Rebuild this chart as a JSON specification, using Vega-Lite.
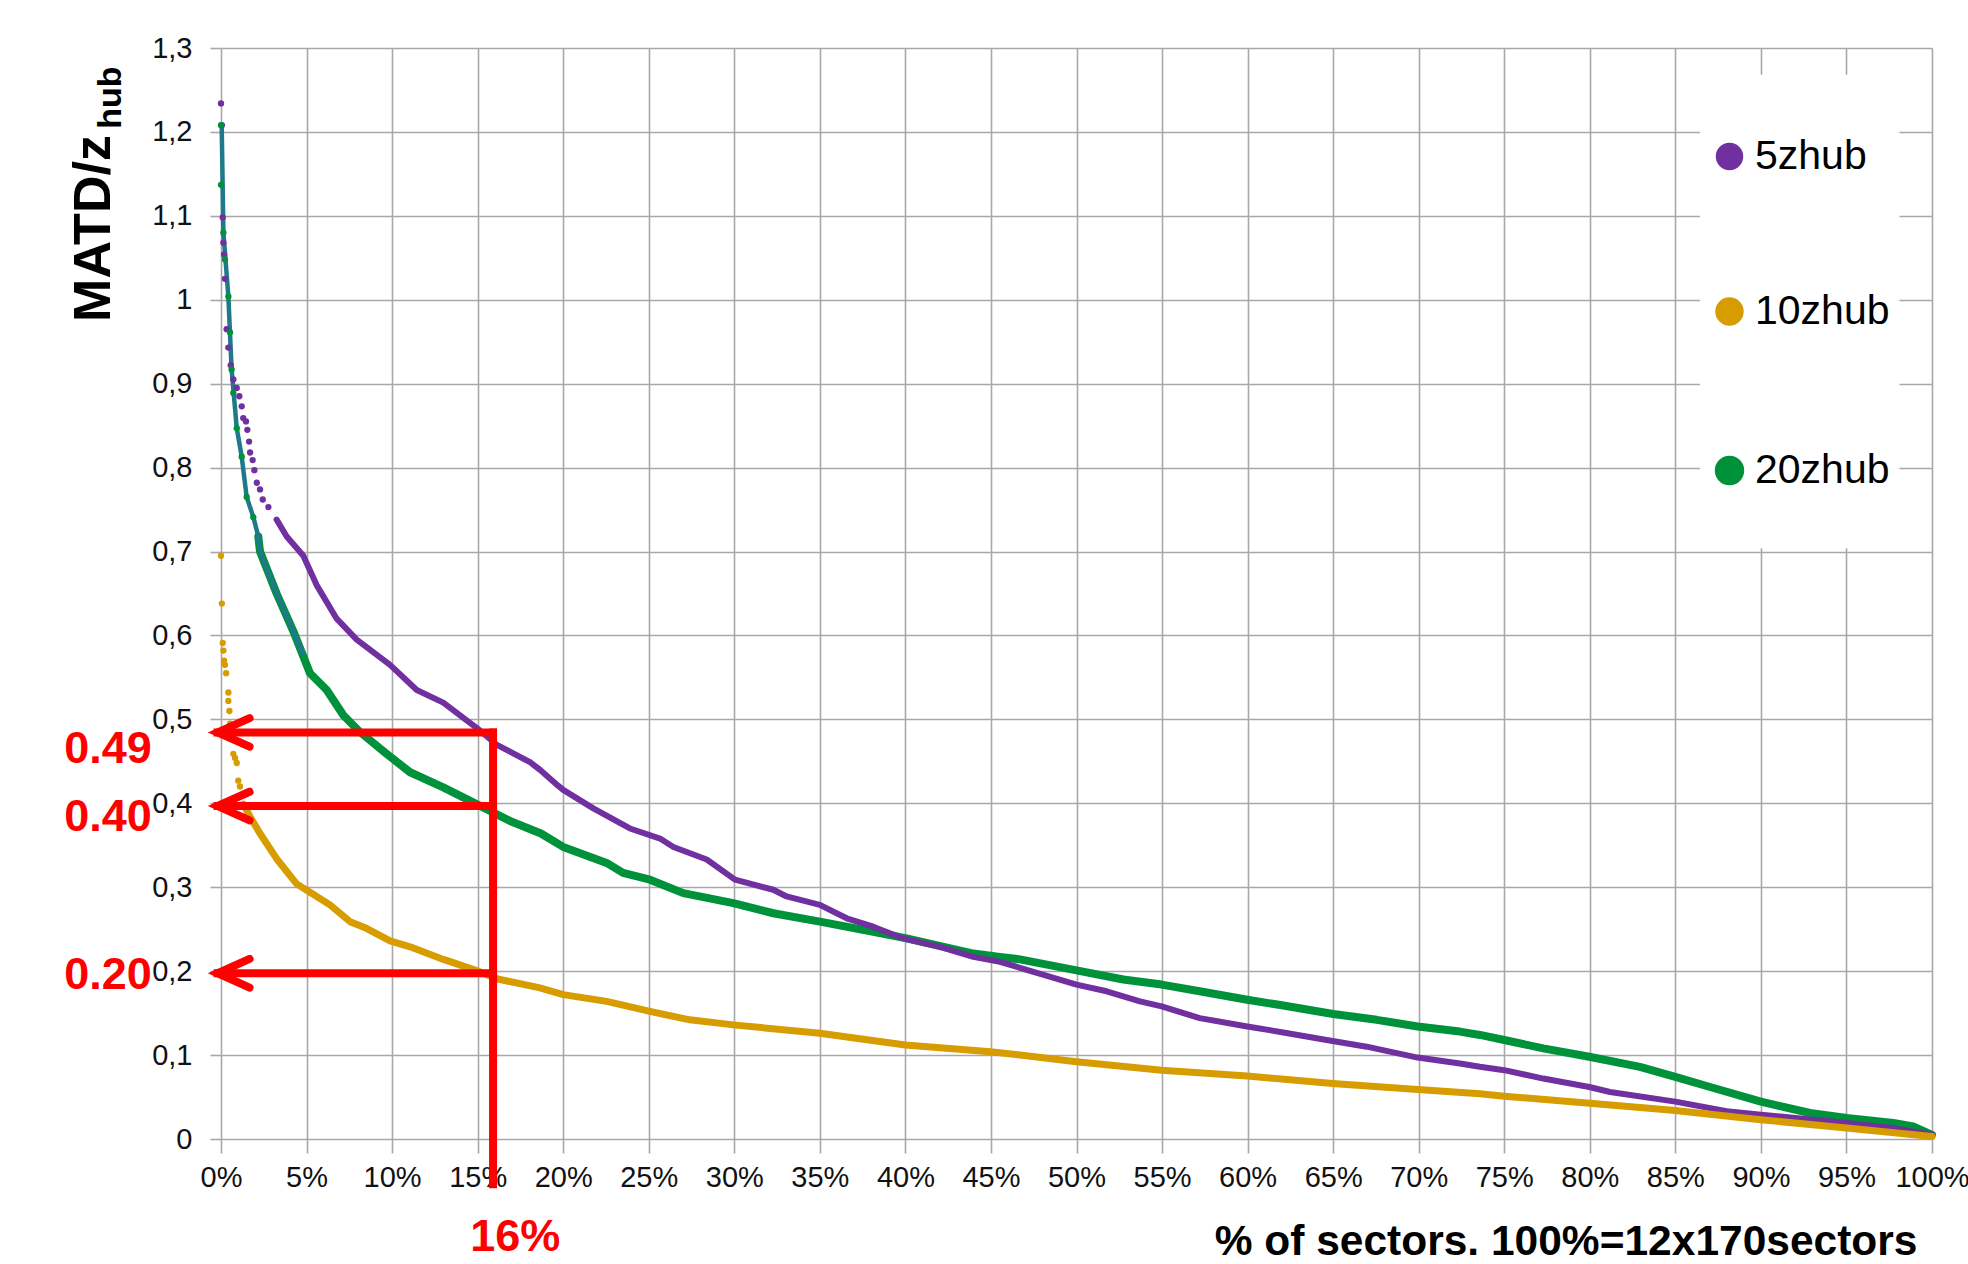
{
  "$schema": "https://vega.github.io/schema/vega-lite/v6.json",
  "width": 1711,
  "height": 1091,
  "autosize": {"type": "none"},
  "padding": {"left": 221, "top": 48, "right": 36, "bottom": 125},
  "background": "#ffffff",
  "config": {"view": {"stroke": null}, "font": "Liberation Sans"},
  "datasets": {
    "lines": [
      {"s": "20zhub", "x": 0.0218, "y": 0.718}, {"s": "20zhub", "x": 0.0228, "y": 0.700}, {"s": "20zhub", "x": 0.0325, "y": 0.650},
      {"s": "20zhub", "x": 0.0423, "y": 0.605}, {"s": "20zhub", "x": 0.052, "y": 0.555}, {"s": "20zhub", "x": 0.0618, "y": 0.535},
      {"s": "20zhub", "x": 0.0715, "y": 0.505}, {"s": "20zhub", "x": 0.0812, "y": 0.485}, {"s": "20zhub", "x": 0.0968, "y": 0.459},
      {"s": "20zhub", "x": 0.1105, "y": 0.437}, {"s": "20zhub", "x": 0.1299, "y": 0.419}, {"s": "20zhub", "x": 0.1494, "y": 0.399},
      {"s": "20zhub", "x": 0.1689, "y": 0.379}, {"s": "20zhub", "x": 0.187, "y": 0.364}, {"s": "20zhub", "x": 0.20, "y": 0.348},
      {"s": "20zhub", "x": 0.2254, "y": 0.329}, {"s": "20zhub", "x": 0.235, "y": 0.317}, {"s": "20zhub", "x": 0.2507, "y": 0.309},
      {"s": "20zhub", "x": 0.2702, "y": 0.293}, {"s": "20zhub", "x": 0.2994, "y": 0.281}, {"s": "20zhub", "x": 0.3228, "y": 0.269},
      {"s": "20zhub", "x": 0.35, "y": 0.259}, {"s": "20zhub", "x": 0.3812, "y": 0.247}, {"s": "20zhub", "x": 0.4007, "y": 0.239},
      {"s": "20zhub", "x": 0.4397, "y": 0.221}, {"s": "20zhub", "x": 0.4553, "y": 0.217}, {"s": "20zhub", "x": 0.467, "y": 0.214},
      {"s": "20zhub", "x": 0.50, "y": 0.201}, {"s": "20zhub", "x": 0.5274, "y": 0.190}, {"s": "20zhub", "x": 0.5498, "y": 0.184},
      {"s": "20zhub", "x": 0.572, "y": 0.176}, {"s": "20zhub", "x": 0.5998, "y": 0.166}, {"s": "20zhub", "x": 0.6209, "y": 0.159},
      {"s": "20zhub", "x": 0.65, "y": 0.149}, {"s": "20zhub", "x": 0.6755, "y": 0.142}, {"s": "20zhub", "x": 0.6994, "y": 0.134},
      {"s": "20zhub", "x": 0.7241, "y": 0.128}, {"s": "20zhub", "x": 0.7358, "y": 0.124}, {"s": "20zhub", "x": 0.75, "y": 0.118},
      {"s": "20zhub", "x": 0.7728, "y": 0.108}, {"s": "20zhub", "x": 0.7997, "y": 0.098}, {"s": "20zhub", "x": 0.8293, "y": 0.086},
      {"s": "20zhub", "x": 0.85, "y": 0.074}, {"s": "20zhub", "x": 0.8703, "y": 0.062}, {"s": "20zhub", "x": 0.90, "y": 0.0445},
      {"s": "20zhub", "x": 0.9287, "y": 0.031}, {"s": "20zhub", "x": 0.9501, "y": 0.025}, {"s": "20zhub", "x": 0.9774, "y": 0.019},
      {"s": "20zhub", "x": 0.989, "y": 0.015}, {"s": "20zhub", "x": 1.0, "y": 0.005},
      {"s": "5zhub", "x": 0.0325, "y": 0.738}, {"s": "5zhub", "x": 0.0384, "y": 0.718}, {"s": "5zhub", "x": 0.0481, "y": 0.695},
      {"s": "5zhub", "x": 0.0559, "y": 0.660}, {"s": "5zhub", "x": 0.0676, "y": 0.620}, {"s": "5zhub", "x": 0.0793, "y": 0.595},
      {"s": "5zhub", "x": 0.0988, "y": 0.565}, {"s": "5zhub", "x": 0.1144, "y": 0.535}, {"s": "5zhub", "x": 0.1299, "y": 0.520},
      {"s": "5zhub", "x": 0.1494, "y": 0.490}, {"s": "5zhub", "x": 0.161, "y": 0.470}, {"s": "5zhub", "x": 0.1806, "y": 0.449},
      {"s": "5zhub", "x": 0.1864, "y": 0.440}, {"s": "5zhub", "x": 0.197, "y": 0.421}, {"s": "5zhub", "x": 0.20, "y": 0.416},
      {"s": "5zhub", "x": 0.2176, "y": 0.394}, {"s": "5zhub", "x": 0.239, "y": 0.370}, {"s": "5zhub", "x": 0.2566, "y": 0.358},
      {"s": "5zhub", "x": 0.2644, "y": 0.348}, {"s": "5zhub", "x": 0.2839, "y": 0.333}, {"s": "5zhub", "x": 0.3004, "y": 0.309},
      {"s": "5zhub", "x": 0.3228, "y": 0.297}, {"s": "5zhub", "x": 0.3306, "y": 0.289}, {"s": "5zhub", "x": 0.35, "y": 0.279},
      {"s": "5zhub", "x": 0.3657, "y": 0.263}, {"s": "5zhub", "x": 0.3812, "y": 0.253}, {"s": "5zhub", "x": 0.3988, "y": 0.239},
      {"s": "5zhub", "x": 0.4202, "y": 0.229}, {"s": "5zhub", "x": 0.4397, "y": 0.217}, {"s": "5zhub", "x": 0.4553, "y": 0.211},
      {"s": "5zhub", "x": 0.467, "y": 0.204}, {"s": "5zhub", "x": 0.50, "y": 0.184}, {"s": "5zhub", "x": 0.5176, "y": 0.176},
      {"s": "5zhub", "x": 0.5371, "y": 0.164}, {"s": "5zhub", "x": 0.5498, "y": 0.158}, {"s": "5zhub", "x": 0.572, "y": 0.144},
      {"s": "5zhub", "x": 0.5998, "y": 0.134}, {"s": "5zhub", "x": 0.6209, "y": 0.127}, {"s": "5zhub", "x": 0.6462, "y": 0.118},
      {"s": "5zhub", "x": 0.6696, "y": 0.110}, {"s": "5zhub", "x": 0.6994, "y": 0.097}, {"s": "5zhub", "x": 0.7241, "y": 0.090},
      {"s": "5zhub", "x": 0.7358, "y": 0.086}, {"s": "5zhub", "x": 0.75, "y": 0.082}, {"s": "5zhub", "x": 0.7728, "y": 0.072},
      {"s": "5zhub", "x": 0.7997, "y": 0.062}, {"s": "5zhub", "x": 0.8118, "y": 0.056}, {"s": "5zhub", "x": 0.85, "y": 0.0445},
      {"s": "5zhub", "x": 0.88, "y": 0.033}, {"s": "5zhub", "x": 0.90, "y": 0.029}, {"s": "5zhub", "x": 0.95, "y": 0.019},
      {"s": "5zhub", "x": 0.9774, "y": 0.013}, {"s": "5zhub", "x": 1.0, "y": 0.005},
      {"s": "10zhub", "x": 0.013, "y": 0.399}, {"s": "10zhub", "x": 0.017, "y": 0.384}, {"s": "10zhub", "x": 0.0228, "y": 0.364},
      {"s": "10zhub", "x": 0.0325, "y": 0.334}, {"s": "10zhub", "x": 0.0442, "y": 0.304}, {"s": "10zhub", "x": 0.052, "y": 0.294},
      {"s": "10zhub", "x": 0.0637, "y": 0.279}, {"s": "10zhub", "x": 0.0754, "y": 0.259}, {"s": "10zhub", "x": 0.085, "y": 0.251},
      {"s": "10zhub", "x": 0.0988, "y": 0.236}, {"s": "10zhub", "x": 0.1105, "y": 0.229}, {"s": "10zhub", "x": 0.13, "y": 0.214},
      {"s": "10zhub", "x": 0.149, "y": 0.201}, {"s": "10zhub", "x": 0.161, "y": 0.191}, {"s": "10zhub", "x": 0.1864, "y": 0.180},
      {"s": "10zhub", "x": 0.20, "y": 0.172}, {"s": "10zhub", "x": 0.2254, "y": 0.164}, {"s": "10zhub", "x": 0.2507, "y": 0.152},
      {"s": "10zhub", "x": 0.274, "y": 0.142}, {"s": "10zhub", "x": 0.2994, "y": 0.136}, {"s": "10zhub", "x": 0.35, "y": 0.126},
      {"s": "10zhub", "x": 0.40, "y": 0.112}, {"s": "10zhub", "x": 0.4497, "y": 0.104}, {"s": "10zhub", "x": 0.467, "y": 0.100},
      {"s": "10zhub", "x": 0.50, "y": 0.092}, {"s": "10zhub", "x": 0.5498, "y": 0.082}, {"s": "10zhub", "x": 0.5998, "y": 0.075},
      {"s": "10zhub", "x": 0.6497, "y": 0.066}, {"s": "10zhub", "x": 0.6994, "y": 0.059}, {"s": "10zhub", "x": 0.7358, "y": 0.054},
      {"s": "10zhub", "x": 0.75, "y": 0.051}, {"s": "10zhub", "x": 0.80, "y": 0.0425}, {"s": "10zhub", "x": 0.85, "y": 0.034},
      {"s": "10zhub", "x": 0.90, "y": 0.023}, {"s": "10zhub", "x": 0.95, "y": 0.013}, {"s": "10zhub", "x": 1.0, "y": 0.003}
    ],
    "dots": [
      {"s": "5zhub", "x": 0.0, "y": 1.234}, {"s": "5zhub", "x": 0.0005, "y": 1.208}, {"s": "5zhub", "x": 0.001, "y": 1.098},
      {"s": "5zhub", "x": 0.0014, "y": 1.068}, {"s": "5zhub", "x": 0.0018, "y": 1.054}, {"s": "5zhub", "x": 0.0023, "y": 1.025},
      {"s": "5zhub", "x": 0.0033, "y": 0.965}, {"s": "5zhub", "x": 0.0043, "y": 0.943}, {"s": "5zhub", "x": 0.0057, "y": 0.922},
      {"s": "5zhub", "x": 0.0072, "y": 0.905}, {"s": "5zhub", "x": 0.0092, "y": 0.895}, {"s": "5zhub", "x": 0.0107, "y": 0.885},
      {"s": "5zhub", "x": 0.0121, "y": 0.873}, {"s": "5zhub", "x": 0.013, "y": 0.859}, {"s": "5zhub", "x": 0.0146, "y": 0.855},
      {"s": "5zhub", "x": 0.0154, "y": 0.845}, {"s": "5zhub", "x": 0.0164, "y": 0.831}, {"s": "5zhub", "x": 0.017, "y": 0.818},
      {"s": "5zhub", "x": 0.0185, "y": 0.809}, {"s": "5zhub", "x": 0.0195, "y": 0.797}, {"s": "5zhub", "x": 0.0209, "y": 0.782},
      {"s": "5zhub", "x": 0.0228, "y": 0.774}, {"s": "5zhub", "x": 0.0244, "y": 0.762}, {"s": "5zhub", "x": 0.0277, "y": 0.753},
      {"s": "20zhub", "x": 0.0, "y": 1.208}, {"s": "20zhub", "x": 0.0, "y": 1.137}, {"s": "20zhub", "x": 0.0014, "y": 1.080},
      {"s": "20zhub", "x": 0.0023, "y": 1.048}, {"s": "20zhub", "x": 0.0043, "y": 1.004}, {"s": "20zhub", "x": 0.0053, "y": 0.961},
      {"s": "20zhub", "x": 0.0062, "y": 0.917}, {"s": "20zhub", "x": 0.0072, "y": 0.889}, {"s": "20zhub", "x": 0.0092, "y": 0.847},
      {"s": "20zhub", "x": 0.0121, "y": 0.813}, {"s": "20zhub", "x": 0.015, "y": 0.765}, {"s": "20zhub", "x": 0.0189, "y": 0.741},
      {"s": "10zhub", "x": 0.0, "y": 0.695}, {"s": "10zhub", "x": 0.0005, "y": 0.638}, {"s": "10zhub", "x": 0.001, "y": 0.591},
      {"s": "10zhub", "x": 0.0014, "y": 0.582}, {"s": "10zhub", "x": 0.0018, "y": 0.570}, {"s": "10zhub", "x": 0.0023, "y": 0.565},
      {"s": "10zhub", "x": 0.003, "y": 0.555}, {"s": "10zhub", "x": 0.0043, "y": 0.532}, {"s": "10zhub", "x": 0.0043, "y": 0.522},
      {"s": "10zhub", "x": 0.0049, "y": 0.510}, {"s": "10zhub", "x": 0.0053, "y": 0.495}, {"s": "10zhub", "x": 0.0072, "y": 0.459},
      {"s": "10zhub", "x": 0.0082, "y": 0.454}, {"s": "10zhub", "x": 0.0092, "y": 0.448}, {"s": "10zhub", "x": 0.0101, "y": 0.427},
      {"s": "10zhub", "x": 0.0111, "y": 0.420}, {"s": "10zhub", "x": 0.013, "y": 0.399}
    ],
    "teal": [
      {"x": 0.0004, "y": 1.208}, {"x": 0.0014, "y": 1.08}, {"x": 0.0043, "y": 1.004}, {"x": 0.0062, "y": 0.917},
      {"x": 0.0092, "y": 0.847}, {"x": 0.0121, "y": 0.813}, {"x": 0.015, "y": 0.765}, {"x": 0.0189, "y": 0.741},
      {"x": 0.0218, "y": 0.718}, {"x": 0.0228, "y": 0.70}, {"x": 0.0325, "y": 0.65}, {"x": 0.0423, "y": 0.605},
      {"x": 0.048, "y": 0.578}
    ],
    "arrows": [
      {"v": "0.49", "y": 0.4845}, {"v": "0.40", "y": 0.3967}, {"v": "0.20", "y": 0.1975}
    ],
    "labels": [
      {"t": "0.49", "x": -0.066, "y": 0.465},
      {"t": "0.40", "x": -0.066, "y": 0.384},
      {"t": "0.20", "x": -0.066, "y": 0.196},
      {"t": "16%", "x": 0.172, "y": -0.117}
    ]
  },
  "encoding": {
    "x": {
      "type": "quantitative",
      "scale": {"domain": [0, 1], "nice": false, "zero": false},
      "axis": {
        "values": [0, 0.05, 0.1, 0.15, 0.2, 0.25, 0.3, 0.35, 0.4, 0.45, 0.5, 0.55, 0.6, 0.65, 0.7, 0.75, 0.8, 0.85, 0.9, 0.95, 1],
        "format": ".0%",
        "grid": true, "gridColor": "#a8a8a8", "gridWidth": 1.6,
        "domain": false,
        "ticks": true, "tickColor": "#a8a8a8", "tickWidth": 1.6, "tickSize": 14,
        "labelFont": "Liberation Sans", "labelFontSize": 29, "labelColor": "#111111", "labelPadding": 10,
        "labelFlush": false, "labelOverlap": false, "labelBound": false,
        "title": "% of sectors. 100%=12x170sectors",
        "titleFont": "Liberation Sans", "titleFontSize": 42.5, "titleFontWeight": "bold", "titleColor": "#000000",
        "titleAlign": "right", "titleBaseline": "middle", "titleX": 1696, "titleY": 102
      }
    },
    "y": {
      "type": "quantitative",
      "scale": {"domain": [0, 1.3], "nice": false, "zero": false},
      "axis": {
        "values": [0, 0.1, 0.2, 0.3, 0.4, 0.5, 0.6, 0.7, 0.8, 0.9, 1, 1.1, 1.2, 1.3],
        "labelExpr": "replace(format(datum.value, '.1~f'), '.', ',')",
        "grid": true, "gridColor": "#a8a8a8", "gridWidth": 1.6,
        "domain": false,
        "ticks": true, "tickColor": "#a8a8a8", "tickWidth": 1.6, "tickSize": 11,
        "labelFont": "Liberation Sans", "labelFontSize": 29, "labelColor": "#111111", "labelPadding": 18,
        "labelOverlap": false, "labelBound": false, "labelFlush": false,
        "title": "MATD/z",
        "titleFont": "Liberation Sans", "titleFontSize": 52, "titleFontWeight": "bold", "titleColor": "#000000",
        "titleAngle": 270, "titleAlign": "center", "titleBaseline": "middle", "titleX": -128, "titleY": 180
      }
    }
  },
  "layer": [
    {
      "data": {"values": [{}]},
      "mark": {"type": "rect", "fill": "#ffffff"},
      "encoding": {
        "x": {"datum": 0.8644}, "x2": {"datum": 0.981},
        "y": {"datum": 1.268}, "y2": {"datum": 0.704}
      }
    },
    {
      "data": {"name": "lines"},
      "mark": {"type": "line", "strokeCap": "round", "strokeJoin": "round"},
      "encoding": {
        "x": {"field": "x"},
        "y": {"field": "y"},
        "color": {
          "field": "s", "type": "nominal",
          "scale": {"domain": ["5zhub", "10zhub", "20zhub"], "range": ["#7030A0", "#D69C00", "#00923A"]},
          "legend": {
            "orient": "none", "legendX": 1488, "legendY": 88,
            "title": null, "padding": 0,
            "symbolType": "circle", "symbolSize": 460, "symbolStrokeWidth": 0,
            "labelFont": "Liberation Sans", "labelFontSize": 41, "labelColor": "#000000", "labelOffset": 5,
            "rowPadding": 106,
            "encode": {"symbols": {"update": {"fill": {"scale": "color", "field": "value"}, "stroke": {"value": "transparent"}}}}
          }
        },
        "strokeWidth": {
          "field": "s", "type": "nominal",
          "scale": {"domain": ["5zhub", "10zhub", "20zhub"], "range": [6, 8, 6]},
          "legend": null
        }
      }
    },
    {
      "data": {"name": "teal"},
      "mark": {"type": "line", "color": "#1E7A8A", "strokeWidth": 4.5, "strokeCap": "round"},
      "encoding": {"x": {"field": "x"}, "y": {"field": "y"}}
    },
    {
      "data": {"name": "dots"},
      "mark": {"type": "point", "filled": true, "shape": "circle", "size": 40, "opacity": 1},
      "encoding": {
        "x": {"field": "x"},
        "y": {"field": "y"},
        "color": {"field": "s", "type": "nominal"}
      }
    },
    {
      "data": {"name": "arrows"},
      "mark": {"type": "rule", "color": "#FF0000", "strokeWidth": 8, "strokeCap": "square"},
      "encoding": {"x": {"datum": -0.002}, "x2": {"datum": 0.159}, "y": {"field": "y"}}
    },
    {
      "data": {"name": "arrows"},
      "mark": {"type": "point", "shape": "M1.9,-0.85L0,0L1.9,0.85", "filled": false, "stroke": "#FF0000", "strokeWidth": 8, "size": 1135, "opacity": 1, "strokeCap": "round", "strokeJoin": "miter"},
      "encoding": {"x": {"datum": -0.002}, "y": {"field": "y"}}
    },
    {
      "data": {"values": [{}]},
      "mark": {"type": "rule", "color": "#FF0000", "strokeWidth": 8, "strokeCap": "square"},
      "encoding": {"x": {"datum": 0.159}, "y": {"datum": 0.4845}, "y2": {"datum": -0.054}}
    },
    {
      "data": {"name": "labels"},
      "mark": {"type": "text", "font": "Liberation Sans", "fontWeight": "bold", "fontSize": 45, "color": "#FF0000", "align": "center", "baseline": "middle"},
      "encoding": {"x": {"field": "x"}, "y": {"field": "y"}, "text": {"field": "t"}}
    },
    {
      "data": {"values": [{}]},
      "mark": {"type": "text", "text": "hub", "font": "Liberation Sans", "fontWeight": "bold", "fontSize": 34, "color": "#000000", "angle": 270, "align": "center", "baseline": "middle"},
      "encoding": {"x": {"datum": -0.0643}, "y": {"datum": 1.241}}
    }
  ]
}
